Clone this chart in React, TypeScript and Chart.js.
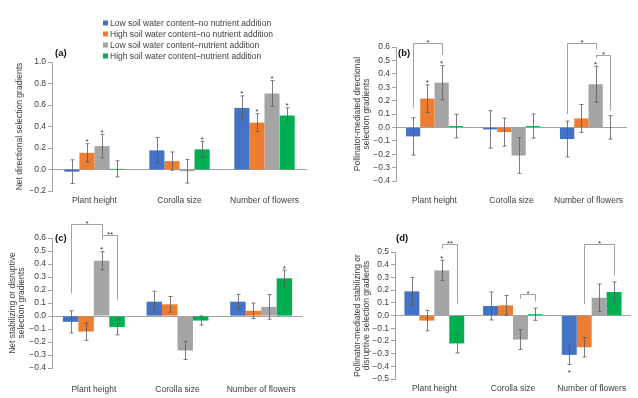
import { useEffect, useRef } from "react";
import { Chart, registerables } from "chart.js";

Chart.register(...registerables);

const FONT = "'Liberation Sans', Arial, sans-serif";

const categories = ["Plant height", "Corolla size", "Number of flowers"];
const seriesLabels = [
  "Low soil water content\u2013no nutrient addition",
  "High soil water content\u2013no nutrient addition",
  "Low soil water content\u2013nutrient addition",
  "High soil water content\u2013nutrient addition",
];
const seriesColors = ["#4472C4", "#ED7D31", "#A5A5A5", "#00B050"];

// (a) Net directional selection gradients
const aLowNo = [-0.02, 0.178, 0.573];
const aHighNo = [0.155, 0.078, 0.436];
const aLowNut = [0.218, -0.016, 0.707];
const aHighNut = [0.006, 0.187, 0.502];
const aErrLowNo = [0.11, 0.12, 0.112];
const aErrHighNo = [0.085, 0.085, 0.083];
const aErrLowNut = [0.11, 0.11, 0.12];
const aErrHighNut = [0.075, 0.075, 0.072];
const aStars = [[1, 0, "above"], [2, 0, "above"], [3, 1, "above"], [0, 2, "above"], [1, 2, "above"], [2, 2, "above"], [3, 2, "above"]];
const aBrackets: any[] = [];

// (b) Pollinator-mediated directional selection gradients
const bLowNo = [-0.067, -0.015, -0.087];
const bHighNo = [0.215, -0.035, 0.067];
const bLowNut = [0.334, -0.21, 0.322];
const bHighNut = [0.01, 0.01, 0.0];
const bErrLowNo = [0.139, 0.14, 0.134];
const bErrHighNo = [0.103, 0.105, 0.104];
const bErrLowNut = [0.127, 0.133, 0.134];
const bErrHighNut = [0.088, 0.09, 0.087];
const bStars = [[1, 0, "above"], [2, 0, "above"], [2, 2, "above"]];
const bBrackets = [
  { cat: 0, from: 0, to: 2, top: 0.628, left: 0.148, right: 0.54, text: "*" },
  { cat: 2, from: 0, to: 2, top: 0.628, left: 0.1, right: 0.58, text: "*" },
  { cat: 2, from: 2, to: 3, top: 0.54, left: 0.515, right: 0.127, text: "*" },
];

// (c) Net stabilizing or disruptive selection gradients
const cLowNo = [-0.045, 0.11, 0.11];
const cHighNo = [-0.12, 0.09, 0.04];
const cLowNut = [0.425, -0.265, 0.07];
const cHighNut = [-0.085, -0.035, 0.29];
const cErrLowNo = [0.085, 0.08, 0.057];
const cErrHighNo = [0.067, 0.06, 0.06];
const cErrLowNut = [0.07, 0.07, 0.095];
const cErrHighNut = [0.06, 0.035, 0.063];
const cStars = [[2, 0, "above"], [3, 2, "above"]];
const cBrackets = [
  { cat: 0, from: 0, to: 2, top: 0.708, left: 0.173, right: 0.625, text: "*" },
  { cat: 0, from: 2, to: 3, top: 0.625, left: 0.587, right: 0.12, text: "**" },
];

// (d) Pollinator-mediated stabilizing or disruptive selection gradients
const dLowNo = [0.19, 0.075, -0.31];
const dHighNo = [-0.04, 0.08, -0.25];
const dLowNut = [0.355, -0.19, 0.14];
const dHighNut = [-0.22, 0.01, 0.185];
const dErrLowNo = [0.11, 0.11, 0.075];
const dErrHighNo = [0.08, 0.078, 0.077];
const dErrLowNut = [0.08, 0.078, 0.108];
const dErrHighNut = [0.075, 0.048, 0.08];
const dStars = [[2, 0, "above"], [0, 2, "below"]];
const dBrackets = [
  { cat: 0, from: 2, to: 3, top: 0.566, left: 0.527, right: 0.092, text: "**" },
  { cat: 1, from: 2, to: 3, top: 0.171, left: 0.13, right: 0.11, text: "*" },
  { cat: 2, from: 1, to: 3, top: 0.566, left: 0.09, right: 0.316, text: "*" },
];

const panels = [
  {
    tag: "(a)",
    title: "Net directional selection gradients",
    values: [aLowNo, aHighNo, aLowNut, aHighNut],
    errors: [aErrLowNo, aErrHighNo, aErrLowNut, aErrHighNut],
    stars: aStars,
    brackets: aBrackets,
    min: -0.2, max: 1.0, step: 0.2,
    legend: true,
    layout: { pad: { left: 15, top: 62, right: 331, bottom: 189 }, yW: 37, xH: 18, xPad: 5, tagDx: 3, tagDy: -9, cat: 0.71 },
  },
  {
    tag: "(b)",
    title: ["Pollinator-mediated directional", "selection gradients"],
    values: [bLowNo, bHighNo, bLowNut, bHighNut],
    errors: [bErrLowNo, bErrHighNo, bErrLowNut, bErrHighNut],
    stars: bStars,
    brackets: bBrackets,
    min: -0.4, max: 0.6, step: 0.1,
    legend: false,
    layout: { pad: { left: 353, top: 47, right: 0, bottom: 189 }, yW: 43, xH: 28, xPad: 15, tagDx: 2, tagDy: 6, cat: 0.74 },
  },
  {
    tag: "(c)",
    title: ["Net stabilizing or disruptive", "selection gradients"],
    values: [cLowNo, cHighNo, cLowNut, cHighNut],
    errors: [cErrLowNo, cErrHighNo, cErrLowNut, cErrHighNut],
    stars: cStars,
    brackets: cBrackets,
    min: -0.4, max: 0.6, step: 0.1,
    legend: false,
    layout: { pad: { left: 8, top: 238, right: 335, bottom: 0 }, yW: 44, xH: 30, xPad: 17, tagDx: 3, tagDy: 0, cat: 0.74 },
  },
  {
    tag: "(d)",
    title: ["Pollinator-mediated stabilizing or", "disruptive selection gradients"],
    values: [dLowNo, dHighNo, dLowNut, dHighNut],
    errors: [dErrLowNo, dErrHighNo, dErrLowNut, dErrHighNut],
    stars: dStars,
    brackets: dBrackets,
    min: -0.5, max: 0.5, step: 0.1,
    legend: false,
    layout: { pad: { left: 353, top: 252, right: 7, bottom: 1 }, yW: 42, xH: 18, xPad: 5, tagDx: 1, tagDy: -14, cat: 0.76 },
  },
];

const fmt = (v: any) => {
  const r = Math.round(Number(v) * 10) / 10;
  return (Math.abs(r) < 1e-9 ? 0 : r).toFixed(1).replace("-", "\u2212");
};

function makePlugin(p: any) {
  return {
    id: "extras" + p.tag,
    afterDatasetsDraw(chart: any) {
      const ctx = chart.ctx;
      const y = chart.scales.y;
      const area = chart.chartArea;
      ctx.save();
      // error bars
      ctx.strokeStyle = "#5a5a5a";
      ctx.lineWidth = 0.8;
      p.values.forEach((vals: number[], i: number) => {
        const meta = chart.getDatasetMeta(i);
        vals.forEach((v: number, j: number) => {
          const bar = meta.data[j];
          const e = p.errors[i][j];
          const x = Math.round(bar.x) + 0.5;
          const t = y.getPixelForValue(v + e);
          const b = y.getPixelForValue(v - e);
          ctx.beginPath();
          ctx.moveTo(x, t);
          ctx.lineTo(x, b);
          ctx.moveTo(x - 2, t);
          ctx.lineTo(x + 2, t);
          ctx.moveTo(x - 2, b);
          ctx.lineTo(x + 2, b);
          ctx.stroke();
        });
      });
      // significance stars on bars
      ctx.fillStyle = "#333";
      ctx.font = `8px ${FONT}`;
      ctx.textAlign = "center";
      ctx.textBaseline = "alphabetic";
      p.stars.forEach((s: any[]) => {
        const [i, j, pos] = s;
        const bar = chart.getDatasetMeta(i).data[j];
        const v = p.values[i][j];
        const e = p.errors[i][j];
        if (pos === "above") {
          ctx.fillText("*", bar.x, y.getPixelForValue(v + e) + 0.5);
        } else {
          ctx.fillText("*", bar.x, y.getPixelForValue(v - e) + 10.5);
        }
      });
      // brackets
      ctx.strokeStyle = "#8c8c8c";
      ctx.lineWidth = 0.8;
      p.brackets.forEach((br: any) => {
        const x1 = Math.round(chart.getDatasetMeta(br.from).data[br.cat].x) + 0.5;
        const x2 = Math.round(chart.getDatasetMeta(br.to).data[br.cat].x) + 0.5;
        const yt = Math.round(y.getPixelForValue(br.top)) + 0.5;
        ctx.beginPath();
        ctx.moveTo(x1, y.getPixelForValue(br.left));
        ctx.lineTo(x1, yt);
        ctx.lineTo(x2, yt);
        ctx.lineTo(x2, y.getPixelForValue(br.right));
        ctx.stroke();
        ctx.fillText(br.text, (x1 + x2) / 2, yt + 1);
      });
      // panel tag
      ctx.fillStyle = "#111";
      ctx.font = `bold 9.5px ${FONT}`;
      ctx.textAlign = "left";
      ctx.textBaseline = "middle";
      ctx.fillText(p.tag, area.left + p.layout.tagDx, area.top + p.layout.tagDy);
      // legend
      if (p.legend) {
        ctx.font = `8.5px ${FONT}`;
        chart.data.datasets.forEach((ds: any, i: number) => {
          const ry = area.top - 39 + i * 11;
          ctx.fillStyle = ds.backgroundColor;
          ctx.fillRect(area.left + 51, ry - 2.5, 5, 5);
          ctx.fillStyle = "#404040";
          ctx.fillText(ds.label, area.left + 58, ry + 0.5);
        });
      }
      ctx.restore();
    },
  };
}

function Panel({ p }: { p: any }) {
  const ref = useRef<HTMLCanvasElement>(null);
  useEffect(() => {
    if (!ref.current) return;
    const L = p.layout;
    const chart = new Chart(ref.current, {
      type: "bar",
      data: {
        labels: categories,
        datasets: p.values.map((vals: number[], i: number) => ({
          label: seriesLabels[i],
          data: vals,
          backgroundColor: seriesColors[i],
          borderWidth: 0,
          barPercentage: 1,
          categoryPercentage: L.cat,
        })),
      },
      options: {
        responsive: false,
        animation: false,
        events: [],
        layout: { padding: L.pad },
        plugins: { legend: { display: false }, tooltip: { enabled: false }, title: { display: false } },
        scales: {
          x: {
            grid: { display: false, drawTicks: false },
            border: { display: false },
            ticks: { font: { size: 8.5, family: FONT }, color: "#404040", padding: L.xPad, maxRotation: 0, autoSkip: false },
            afterFit: (s: any) => { s.height = L.xH; },
          },
          y: {
            min: p.min,
            max: p.max,
            ticks: { stepSize: p.step, callback: fmt, autoSkip: false, font: { size: 8.5, family: FONT }, color: "#404040", padding: 2 },
            grid: {
              color: (c: any) => (c.tick && Math.abs(c.tick.value) < 1e-9 ? "#8c8c8c" : "rgba(0,0,0,0)"),
              tickColor: "#8c8c8c",
              tickLength: 4,
              lineWidth: 0.8,
            },
            border: { display: true, color: "#8c8c8c", width: 0.8 },
            title: { display: true, text: p.title, font: { size: 8.5, family: FONT, lineHeight: 1.1 }, color: "#404040", padding: 0 },
            afterFit: (s: any) => { s.width = L.yW; },
          },
        },
      },
      plugins: [makePlugin(p)],
    } as any);
    return () => chart.destroy();
  }, [p]);
  return (
    <canvas
      ref={ref}
      width={638}
      height={398}
      style={{ position: "absolute", left: 0, top: 0, width: 638, height: 398 }}
    />
  );
}

export default function App() {
  return (
    <div style={{ position: "absolute", left: 0, top: 0, width: 638, height: 398, background: "#fff", overflow: "hidden" }}>
      {panels.map((p) => (
        <Panel key={p.tag} p={p} />
      ))}
    </div>
  );
}
